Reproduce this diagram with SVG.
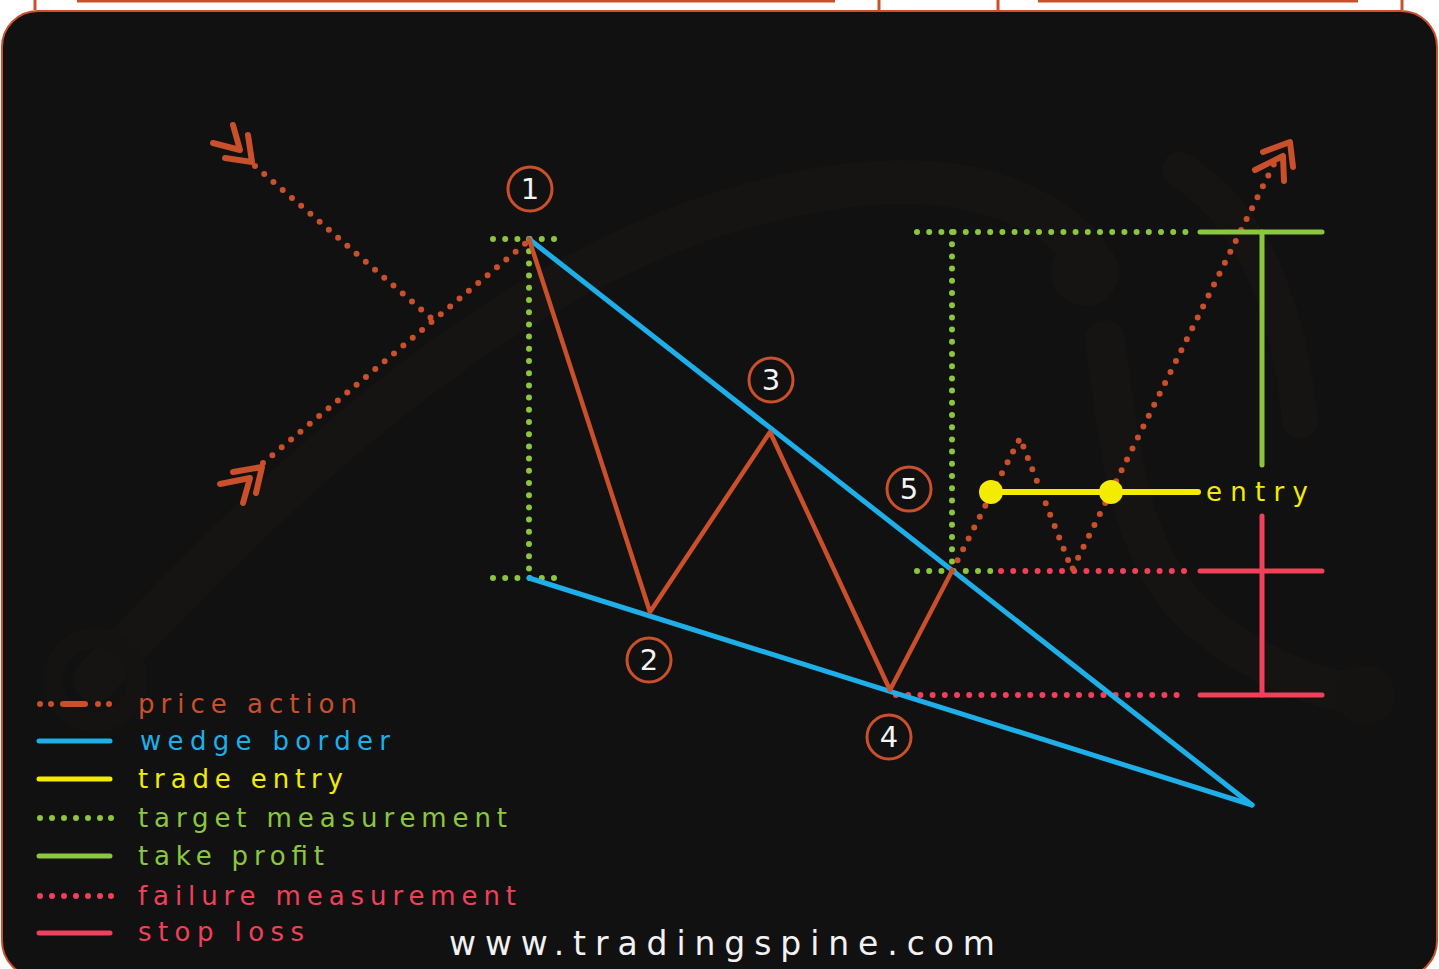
<svg xmlns="http://www.w3.org/2000/svg" width="1439" height="969" viewBox="0 0 1439 969">
<defs>
<style>
.or{stroke:#c9502a;fill:none;stroke-linecap:round;stroke-linejoin:round}
.dot{stroke-dasharray:0 12.2;stroke-width:6;stroke-linecap:round;fill:none}
.sol{stroke-width:5;stroke-linecap:round;fill:none}
.blue{stroke:#1eaee8}
.yel{stroke:#f3ec00}
.grn{stroke:#8cc63f}
.red{stroke:#f0405a}
.num{fill:#f4f4f4;font-family:"DejaVu Sans","Liberation Sans",sans-serif;font-size:29px;text-anchor:middle}
.ring{fill:none;stroke:#c9502a;stroke-width:3}
.leg{font-family:"DejaVu Sans","Liberation Sans",sans-serif;font-size:26px}
.wm{fill:none;stroke:#151413;stroke-linecap:round}
.ld{stroke:none}
</style>
</defs>
<rect x="0" y="0" width="1439" height="969" fill="#ffffff"/>
<g id="top-frame" stroke="#c9502a" stroke-width="3" fill="none">
<line x1="35" y1="0" x2="35" y2="10"/>
<line x1="77" y1="1" x2="835" y2="1"/>
<line x1="879" y1="0" x2="879" y2="10"/>
<line x1="998" y1="0" x2="998" y2="10"/>
<line x1="1038" y1="1" x2="1358" y2="1"/>
<line x1="1402" y1="0" x2="1402" y2="10"/>
</g>
<rect id="panel" x="2" y="11" width="1435" height="966" rx="36" ry="36" fill="#121111" stroke="#c9502a" stroke-width="2"/>
<g id="watermark">
<path class="wm" stroke-width="44" d="M95,680 C 300,460 480,300 700,220 C 850,170 1000,160 1085,250"/>
<circle cx="95" cy="680" r="42" fill="none" stroke="#141312" stroke-width="20"/>
<circle cx="1085" cy="272" r="34" fill="#151413"/>
<path class="wm" stroke-width="40" d="M1105,340 C 1120,450 1130,560 1200,620 C 1260,670 1320,690 1365,695"/>
<circle cx="1365" cy="695" r="30" fill="#141312"/>
<path class="wm" stroke-width="36" d="M1180,170 C 1260,220 1290,320 1300,420"/>
</g>
<g id="connectors">
<line class="dot grn" x1="493" y1="239" x2="566" y2="239"/>
<line class="dot grn" x1="493" y1="578" x2="566" y2="578"/>
<line class="dot grn" x1="529" y1="239" x2="529" y2="578"/>
<line class="dot grn" x1="917" y1="232" x2="1186" y2="232"/>
<line class="dot grn" x1="952" y1="232" x2="952" y2="571"/>
<line class="dot grn" x1="917" y1="571" x2="992" y2="571"/>
<line class="dot red" x1="1001" y1="571" x2="1186" y2="571"/>
<line class="dot red" x1="896" y1="695" x2="1186" y2="695"/>
<line class="sol blue" x1="529" y1="239" x2="1252" y2="805"/>
<line class="sol blue" x1="529" y1="578" x2="1252" y2="805"/>
<polyline class="or" stroke-width="4.5" points="529,239 650,612 770,432 890,690 952,571"/>
<line class="dot or" x1="263" y1="463" x2="526" y2="243"/>
<line class="dot or" x1="255" y1="166" x2="431" y2="318"/>
<polyline class="dot or" points="952,571 1020,438 1072,570 1276,160"/>
<path class="or" stroke-width="6" d="M213,143 L240,150 L233,125 M225,158 L252,162 L248,135"/>
<path class="or" stroke-width="6" d="M233,472 L262,467 L256,493 M220,484 L250,478 L243,503"/>
<path class="or" stroke-width="6" d="M1263,152 L1290,142 L1293,167 M1255,170 L1283,156 L1284,181"/>
<line class="sol grn" x1="1200" y1="232" x2="1322" y2="232"/>
<line class="sol grn" x1="1262" y1="232" x2="1262" y2="465"/>
<line class="sol red" x1="1262" y1="516" x2="1262" y2="695"/>
<line class="sol red" x1="1200" y1="571" x2="1322" y2="571"/>
<line class="sol red" x1="1200" y1="695" x2="1322" y2="695"/>
<line class="yel" stroke-width="6" stroke-linecap="round" x1="991" y1="492" x2="1198" y2="492"/>
</g>
<g id="entry">
<circle cx="991" cy="492" r="12" fill="#f3ec00"/>
<circle cx="1111" cy="492" r="12" fill="#f3ec00"/>
<text x="1206" y="501" class="leg" font-size="28" fill="#f3ec00" textLength="102" lengthAdjust="spacing">entry</text>
</g>
<g id="p1"><circle class="ring" cx="530" cy="189" r="22"/><text class="num" x="530" y="199">1</text></g>
<g id="p2"><circle class="ring" cx="649" cy="660" r="22"/><text class="num" x="649" y="670">2</text></g>
<g id="p3"><circle class="ring" cx="771" cy="380" r="22"/><text class="num" x="771" y="390">3</text></g>
<g id="p4"><circle class="ring" cx="889" cy="737" r="22"/><text class="num" x="889" y="747">4</text></g>
<g id="p5"><circle class="ring" cx="909" cy="489" r="22"/><text class="num" x="909" y="499">5</text></g>
<g id="legend">
<g id="leg-price" fill="#c9502a">
<circle class="ld" cx="40" cy="704" r="3"/><circle class="ld" cx="51" cy="704" r="3"/>
<line class="or" stroke-width="6" x1="63" y1="704" x2="85" y2="704"/>
<circle class="ld" cx="98" cy="704" r="3"/><circle class="ld" cx="109" cy="704" r="3"/>
<text class="leg" x="138" y="713" textLength="219" lengthAdjust="spacing">price action</text>
</g>
<g id="leg-wedge">
<line class="sol blue" x1="39" y1="741" x2="110" y2="741"/>
<text class="leg" x="140" y="750" fill="#1eaee8" textLength="250" lengthAdjust="spacing">wedge border</text>
</g>
<g id="leg-entry">
<line class="sol yel" x1="39" y1="779" x2="110" y2="779"/>
<text class="leg" x="138" y="788" fill="#f3ec00" textLength="205" lengthAdjust="spacing">trade entry</text>
</g>
<g id="leg-target" fill="#8cc63f">
<circle class="ld" cx="40" cy="818" r="3"/><circle class="ld" cx="52" cy="818" r="3"/><circle class="ld" cx="64" cy="818" r="3"/><circle class="ld" cx="76" cy="818" r="3"/><circle class="ld" cx="88" cy="818" r="3"/><circle class="ld" cx="100" cy="818" r="3"/><circle class="ld" cx="111" cy="818" r="3"/>
<text class="leg" x="138" y="827" textLength="369" lengthAdjust="spacing">target measurement</text>
</g>
<g id="leg-tp">
<line class="sol grn" x1="39" y1="856" x2="110" y2="856"/>
<text class="leg" x="138" y="865" fill="#8cc63f" textLength="186" lengthAdjust="spacing">take profit</text>
</g>
<g id="leg-failure" fill="#f0405a">
<circle class="ld" cx="40" cy="896" r="3"/><circle class="ld" cx="52" cy="896" r="3"/><circle class="ld" cx="64" cy="896" r="3"/><circle class="ld" cx="76" cy="896" r="3"/><circle class="ld" cx="88" cy="896" r="3"/><circle class="ld" cx="100" cy="896" r="3"/><circle class="ld" cx="111" cy="896" r="3"/>
<text class="leg" x="138" y="905" textLength="378" lengthAdjust="spacing">failure measurement</text>
</g>
<g id="leg-sl">
<line class="sol red" x1="39" y1="933" x2="110" y2="933"/>
<text class="leg" x="138" y="941" fill="#f0405a" textLength="166" lengthAdjust="spacing">stop loss</text>
</g>
</g>
<text id="site" x="449" y="955" font-family="'DejaVu Sans','Liberation Sans',sans-serif" font-size="33" fill="#f2f2f2" textLength="546" lengthAdjust="spacing">www.tradingspine.com</text>
</svg>
